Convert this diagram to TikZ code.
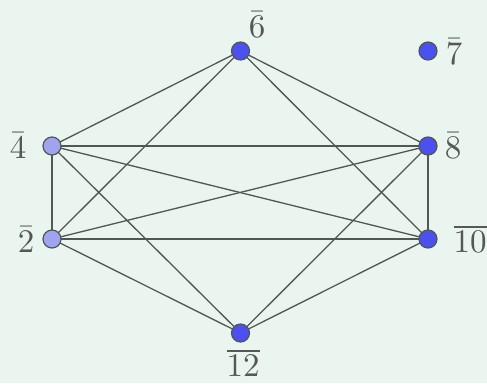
\documentclass[tikz,border=0pt]{standalone}
\usepackage{amsmath}
\begin{document}
\begin{tikzpicture}[x=1pt,y=-1pt,
  vtx/.style={circle,draw=edgec,line width=1.2pt,fill=vblue,minimum size=18pt,inner sep=0pt},
  vlight/.style={vtx,fill=vlightc},
  lbl/.style={text=labc,scale=3.3,inner sep=0pt},
  edge/.style={draw=edgec,line width=1.3pt}]
\definecolor{vblue}{HTML}{4B50EE}
\definecolor{vlightc}{HTML}{A0A4F0}
\definecolor{edgec}{HTML}{505854}
\definecolor{labc}{HTML}{555855}
\definecolor{bgc}{HTML}{EAF5EF}
\fill[bgc] (0,0) rectangle (487,383);
\useasboundingbox (0,0) rectangle (487,383);
\coordinate (p6) at (240.5,51);
\coordinate (p4) at (52,146);
\coordinate (p8) at (428,146);
\coordinate (p2) at (52,239);
\coordinate (p10) at (428,239);
\coordinate (p12) at (240.5,333);
\foreach \a/\b in {p6/p4,p6/p2,p6/p8,p6/p10,p4/p8,p4/p10,p4/p12,p4/p2,p2/p8,p2/p10,p2/p12,p8/p10,p8/p12,p10/p12}
  \draw[edge] (\a) -- (\b);
\node[vtx] (n6) at (p6) {};
\node[vtx] (n7) at (428,51) {};
\node[vlight] (n4) at (p4) {};
\node[vtx] (n8) at (p8) {};
\node[vlight] (n2) at (p2) {};
\node[vtx] (n10) at (p10) {};
\node[vtx] (n12) at (p12) {};
\node[lbl] (l6) at (257,25) {$\bar{6}$};
\node[lbl] (l7) at (454,52) {$\bar{7}$};
\node[lbl] (l4) at (18,146) {$\bar{4}$};
\node[lbl] (l8) at (453,146) {$\bar{8}$};
\node[lbl] (l2) at (26,240) {$\bar{2}$};
\node[lbl] (l10) at (470,239) {$\overline{10}$};
\node[lbl] (l12) at (243,363) {$\overline{12}$};
\end{tikzpicture}
\end{document}
